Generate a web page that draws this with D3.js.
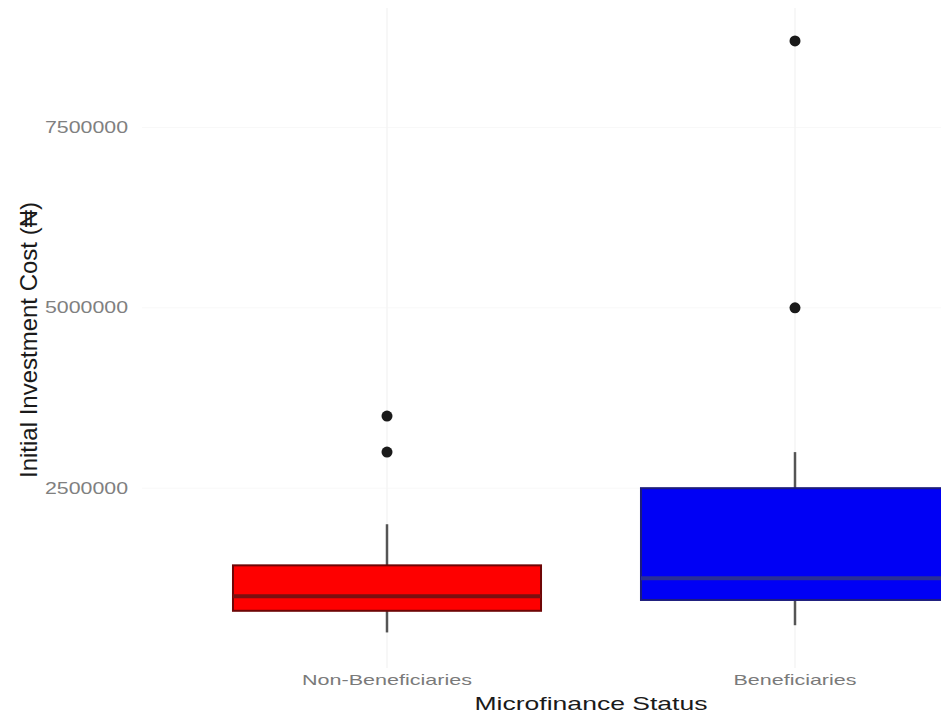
<!DOCTYPE html>
<html>
<head>
<meta charset="utf-8">
<script src="https://cdn.jsdelivr.net/npm/d3@7"></script>
<style>
	body { margin: 0; background: #fff; }
	svg { display: block; }
	text { font-family: "Liberation Sans", Arial, sans-serif; }
</style>
</head>
<body>
<div id="chart"></div>
<script>
// data
const categories = ["Non-Beneficiaries", "Beneficiaries"];
const lowerWhisker = [500000, 600000];
const q1 = [800000, 950000];
const median = [1000000, 1250000];
const q3 = [1430000, 2500000];
const upperWhisker = [2000000, 3000000];
const outliers = [[3000000, 3500000], [5000000, 8700000]];
const fills = ["#fe0000", "#0000f5"];
const borders = ["#6e0606", "#1c1c7c"];
const medianColors = ["#7a1010", "#2a2f96"];
const yTicks = [2500000, 5000000, 7500000];
const yTickLabels = ["2500000", "5000000", "7500000"];

const W = 941, H = 717;
const panel = { top: 8, bottom: 668, left: 142, right: 1040 };

const svg = d3.select("#chart")
	.append("svg")
	.attr("width", W)
	.attr("height", H);

const y = d3.scaleLinear()
	.domain([0, 7500000])
	.range([668.5, 127.5]);

const x = d3.scaleBand()
	.domain(categories)
	.range([183, 999])
	.paddingInner(0.245)
	.paddingOuter(0.1225);
const cx = c => x(c) + x.bandwidth() / 2;

// faint grid, barely visible in the original
svg.append("g")
	.selectAll("line")
	.data(yTicks)
	.enter()
	.append("line")
	.attr("x1", panel.left)
	.attr("x2", panel.right)
	.attr("y1", d => y(d))
	.attr("y2", d => y(d))
	.attr("stroke", "#f8f8f8")
	.attr("stroke-width", 1);
svg.append("g")
	.selectAll("line")
	.data(categories)
	.enter()
	.append("line")
	.attr("x1", d => cx(d))
	.attr("x2", d => cx(d))
	.attr("y1", panel.top)
	.attr("y2", panel.bottom)
	.attr("stroke", "#f5f5f5")
	.attr("stroke-width", 1.5);

// y axis (labels only)
const yAxis = d3.axisLeft(y)
	.tickValues(yTicks)
	.tickFormat((d, i) => yTickLabels[i])
	.tickSize(0)
	.tickPadding(0);
const yAxisGroup = svg.append("g")
	.attr("transform", "translate(128,0)")
	.call(yAxis);
yAxisGroup.select(".domain").remove();
yAxisGroup.selectAll("text")
	.attr("fill", "#808080")
	.attr("font-size", 16)
	.attr("font-family", "Liberation Sans, Arial, sans-serif")
	.attr("textLength", 83)
	.attr("lengthAdjust", "spacingAndGlyphs");

// x axis (labels only)
const xAxis = d3.axisBottom(x).tickSize(0).tickPadding(0);
const xAxisGroup = svg.append("g")
	.attr("transform", "translate(0,674)")
	.call(xAxis);
xAxisGroup.select(".domain").remove();
xAxisGroup.selectAll("text")
	.attr("fill", "#7a7a7a")
	.attr("font-size", 15)
	.attr("font-family", "Liberation Sans, Arial, sans-serif")
	.attr("textLength", (d, i) => i == 0 ? 170 : 123)
	.attr("lengthAdjust", "spacingAndGlyphs");

// boxes
const boxes = svg.append("g")
	.selectAll("g")
	.data(categories)
	.enter()
	.append("g");

boxes.append("line")
	.attr("x1", d => cx(d))
	.attr("x2", d => cx(d))
	.attr("y1", (d, i) => y(upperWhisker[i]))
	.attr("y2", (d, i) => y(lowerWhisker[i]))
	.attr("stroke", "#555")
	.attr("stroke-width", 2.5);

boxes.append("rect")
	.attr("x", d => x(d))
	.attr("y", (d, i) => y(q3[i]))
	.attr("width", x.bandwidth())
	.attr("height", (d, i) => y(q1[i]) - y(q3[i]))
	.attr("fill", (d, i) => fills[i])
	.attr("stroke", (d, i) => borders[i])
	.attr("stroke-width", 2);

boxes.append("line")
	.attr("x1", d => x(d))
	.attr("x2", d => x(d) + x.bandwidth())
	.attr("y1", (d, i) => y(median[i]))
	.attr("y2", (d, i) => y(median[i]))
	.attr("stroke", (d, i) => medianColors[i])
	.attr("stroke-width", 4);

boxes.selectAll("circle")
	.data((d, i) => outliers[i].map(v => ({ cat: d, value: v })))
	.enter()
	.append("circle")
	.attr("cx", d => cx(d.cat))
	.attr("cy", d => y(d.value))
	.attr("r", 5.5)
	.attr("fill", "#1a1a1a");

// axis titles
svg.append("text")
	.attr("x", (panel.left + panel.right) / 2)
	.attr("y", 710)
	.attr("text-anchor", "middle")
	.attr("font-size", 19)
	.attr("fill", "#1a1a1a")
	.attr("textLength", 233)
	.attr("lengthAdjust", "spacingAndGlyphs")
	.text("Microfinance Status");

svg.append("text")
	.attr("transform", "translate(37,340) rotate(-90)")
	.attr("text-anchor", "middle")
	.attr("font-size", 24)
	.attr("fill", "#1a1a1a")
	.attr("textLength", 276)
	.attr("lengthAdjust", "spacingAndGlyphs")
	.text("Initial Investment Cost (₦)");
</script>
</body>
</html>
